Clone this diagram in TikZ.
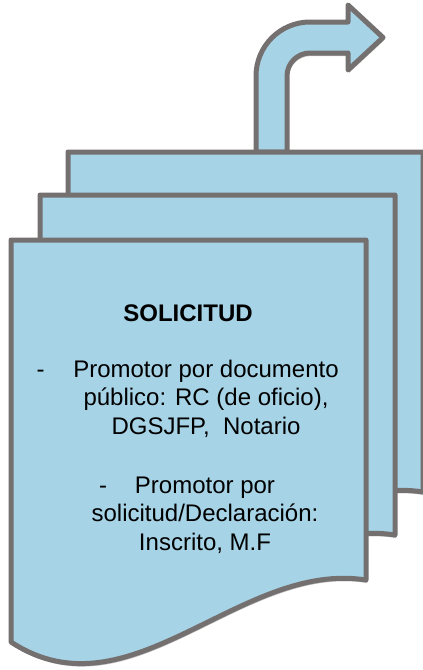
\documentclass[tikz,border=0pt]{standalone}
\usepackage{fontspec}
\setmainfont{Liberation Sans}
\usetikzlibrary{shadows}
\definecolor{sheetfill}{RGB}{166,211,230}
\definecolor{sheetline}{RGB}{117,112,112}
\begin{document}
\begin{tikzpicture}[x=1pt,y=-1pt,line join=round,
  sheet/.style={draw=sheetline,fill=sheetfill,line width=5pt,
    drop shadow={shadow xshift=1pt,shadow yshift=-3pt,fill=black!50,opacity=.5}},
  txt/.style={font=\fontsize{24}{28.5}\selectfont,align=center,inner sep=0pt}]
  \useasboundingbox (0,0) rectangle (423,670);
  % bent arrow behind the sheets
  \draw[sheet] (256,152) -- (256,76) arc[start angle=180,end angle=270,radius=54]
    -- (348,22) -- (348,5) -- (383,37.5) -- (348,70) -- (348,53) -- (310,53)
    arc[start angle=270,end angle=180,radius=23] -- (287,152) -- cycle;
  % three stacked sheets, back to front
  \foreach \dx/\dy in {57/-88,29/-45,0/0}
    \draw[sheet,shift={(\dx,\dy)}] (11,240) -- (366,240) -- (366,580)
      .. controls (240,560) and (130,720) .. (11,642) -- cycle;
  \node[txt,font=\fontsize{24}{28.5}\selectfont\bfseries,anchor=base] (title) at (188,321) {SOLICITUD};
  \node[txt,anchor=base] (dash1) at (40.5,377) {-};
  \node[txt,anchor=base] (item1) at (206,434) {Promotor por documento\\público: RC (de oficio),\\DGSJFP,\ \ Notario};
  \node[txt,anchor=base] (dash2) at (103,493) {-};
  \node[txt,anchor=base] (item2) at (205,550) {Promotor por\\solicitud/Declaración:\\Inscrito, M.F};
\end{tikzpicture}
\end{document}
